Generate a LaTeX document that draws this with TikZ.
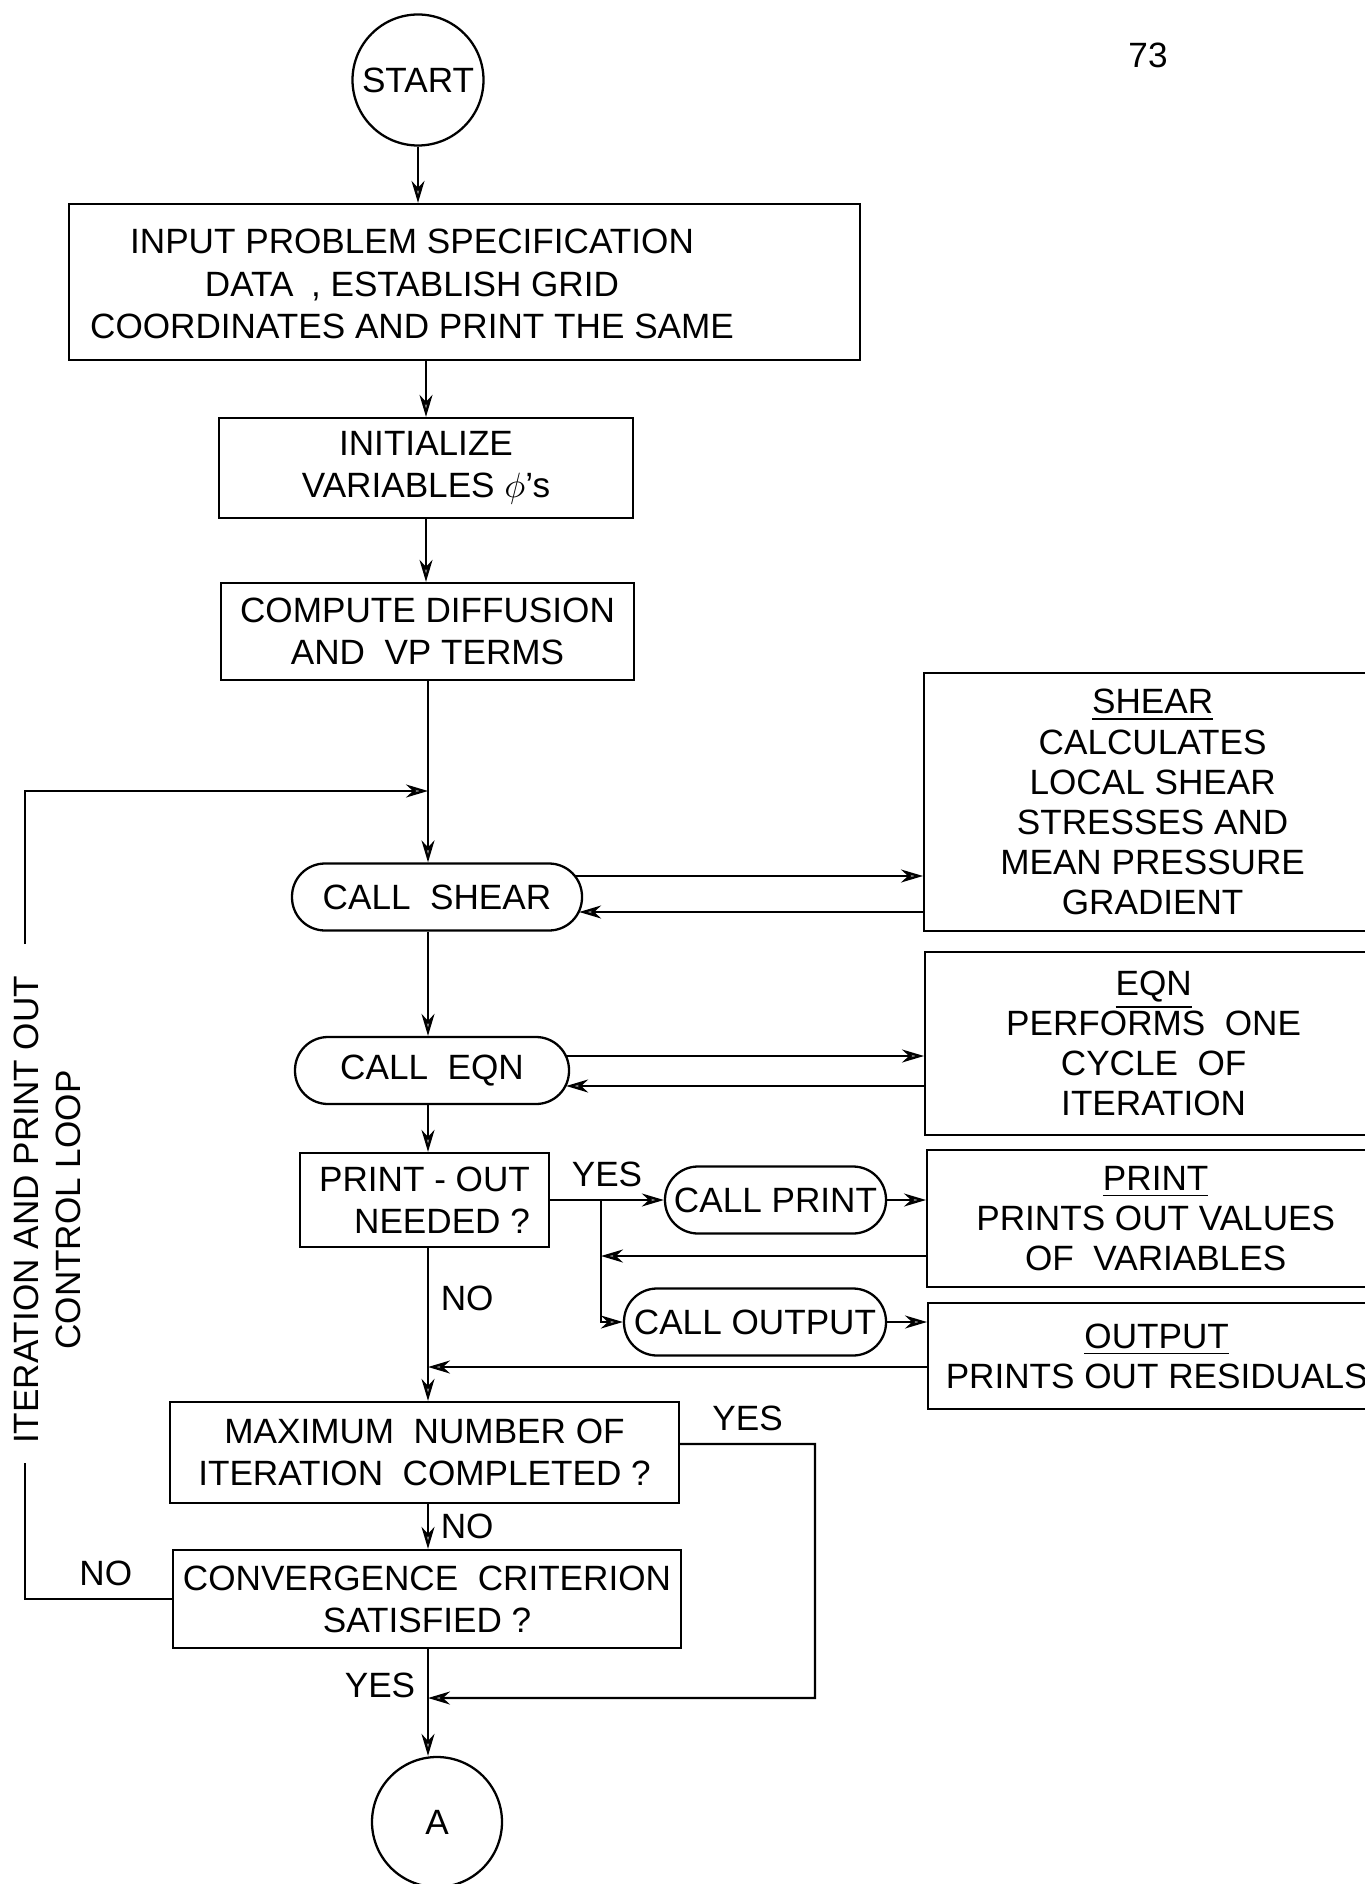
\documentclass[tikz,border=0pt]{standalone}
\usepackage{fontspec}
\setmainfont{Liberation Sans}
\usetikzlibrary{arrows.meta,positioning}

\begin{document}
\begin{tikzpicture}[
  x=0.1mm, y=-0.1mm,
  font=\fontsize{10pt}{12pt}\selectfont,
  line width=0.65pt,
  box/.style={draw,align=center,inner sep=2pt},
  call/.style={draw,rounded corners=3.3mm,align=center,inner sep=2pt,minimum height=6.7mm},
  term/.style={draw,circle,minimum size=13.1mm,inner sep=0pt},
  sub/.style={box,anchor=west,minimum width=45.7mm,font=\fontsize{10pt}{11.4pt}\selectfont},
  arr/.style={-{Stealth[length=2.2mm,width=1.3mm,inset=0.7mm,fill=black!45]}}
]
\useasboundingbox (0,0) rectangle (1364,1884);

% main column
\node[term] (start) at (418,80) {START};
\node (pageno) at (1148,55) {73};
\node[box,minimum width=79.1mm,minimum height=15.6mm] (input) at (464.5,282) {};
\node[align=center] (inputtxt) at (412,284) {INPUT PROBLEM SPECIFICATION\\DATA\enspace, ESTABLISH GRID\\COORDINATES AND PRINT THE SAME};
\node[box,minimum width=41.4mm,minimum height=10mm] (init) at (426,468) {INITIALIZE\\VARIABLES $\phi$'s};
\node[box,minimum width=41.3mm,minimum height=9.7mm] (compute) at (427.5,631.5) {COMPUTE DIFFUSION\\AND\ \ VP TERMS};
\node[call,minimum width=29mm] (callshear) at (437,897) {CALL\ \ SHEAR};
\node[call,minimum width=27.4mm] (calleqn) at (432,1070.5) {CALL\ \ EQN};
\node[box,align=right,minimum width=24.9mm,minimum height=9.4mm] (printq) at (424.5,1200) {PRINT - OUT\\NEEDED ?};
\node[box,minimum width=50.9mm,minimum height=10.1mm] (max) at (424.5,1452.5) {MAXIMUM\ \ NUMBER OF\\ITERATION\ \ COMPLETED ?};
\node[box,minimum width=50.8mm,minimum height=9.8mm] (conv) at (427,1599) {CONVERGENCE\ \ CRITERION\\SATISFIED ?};
\node[term,minimum size=13mm] (A) at (437,1822) {A};

% subroutine calls
\node[call,minimum width=22.1mm] (callprint) at (775.5,1200) {CALL PRINT};
\node[call,minimum width=26.2mm] (calloutput) at (755,1322) {CALL OUTPUT};

\node[sub,minimum height=25.8mm] (shear) at (923,802) {\underline{SHEAR}\\CALCULATES\\LOCAL SHEAR\\STRESSES AND\\MEAN PRESSURE\\GRADIENT};
\node[sub,minimum height=18.3mm] (eqn) at (924,1043.5) {\underline{EQN}\\PERFORMS\ \ ONE\\CYCLE\ \ OF\\ITERATION};
\node[sub,minimum height=13.7mm] (print) at (926,1218.5) {\underline{PRINT}\\PRINTS OUT VALUES\\OF\ \ VARIABLES};
\node[sub,minimum height=10.6mm] (output) at (927,1356) {\underline{OUTPUT}\\PRINTS OUT RESIDUALS};

\node[rotate=90,align=center] (looplabel) at (47,1210) {ITERATION AND PRINT OUT\\CONTROL LOOP};

\coordinate (col) at (428,0);
\coordinate (loopin) at (428,791);
\coordinate (split) at (601,1200);
\coordinate (yesturn) at (815,1444);
\coordinate (merge) at (428,1698);
\coordinate (gaptop) at (25,944);
\coordinate (gapbot) at (25,1463);

% connectors
\draw[arr] (start) -- (start |- input.north);
\draw[arr] (input.south -| init) -- (init);
\draw[arr] (init) -- (init |- compute.north);
\draw[arr] (compute.south -| col) -- (callshear.north -| col);
\draw[arr] (callshear.south -| col) -- (calleqn.north -| col);
\draw[arr] (calleqn.south -| col) -- (printq.north -| col);
\draw[arr] (printq.south -| col) -- node[right,pos=0.33]{NO} (max.north -| col);
\draw[arr] (max.south -| col) -- node[right]{NO} (conv.north -| col);
\draw[arr] (conv.south -| col) -- node[left,pos=0.34]{YES} (A.north -| col);

\draw[arr] ([xshift=-0.8mm,yshift=2.1mm]callshear.east) -- ([yshift=2.1mm]callshear.east -| shear.west);
\draw[arr] ([yshift=-1.5mm]callshear.east -| shear.west) -- ([xshift=-0.4mm,yshift=-1.5mm]callshear.east);
\draw[arr] ([xshift=-0.4mm,yshift=1.45mm]calleqn.east) -- ([yshift=1.45mm]calleqn.east -| eqn.west);
\draw[arr] ([yshift=-1.55mm]calleqn.east -| eqn.west) -- ([xshift=-0.4mm,yshift=-1.55mm]calleqn.east);

\draw[arr] (printq.east) -- node[above]{YES} (printq.east -| callprint.west);
\draw[arr] (split) |- (calloutput.west);
\draw[arr] (callprint.east) -- (callprint.east -| print.west);
\draw[arr] ([yshift=-3.75mm]print.west) -- ([yshift=-3.75mm]print.west -| split);
\draw[arr] (calloutput.east) -- (calloutput.east -| output.west);
\draw[arr] ([yshift=-1.1mm]output.west) -- ([yshift=-1.1mm]output.west -| col);

\draw[arr] ([yshift=0.85mm]max.east) -- node[above]{YES} (yesturn) |- (merge);

% iteration loop
\draw (conv.west) -- node[above,pos=0.45]{NO} (conv.west -| gapbot) -- (gapbot);
\draw[arr] (gaptop) |- (loopin);
\end{tikzpicture}
\end{document}
